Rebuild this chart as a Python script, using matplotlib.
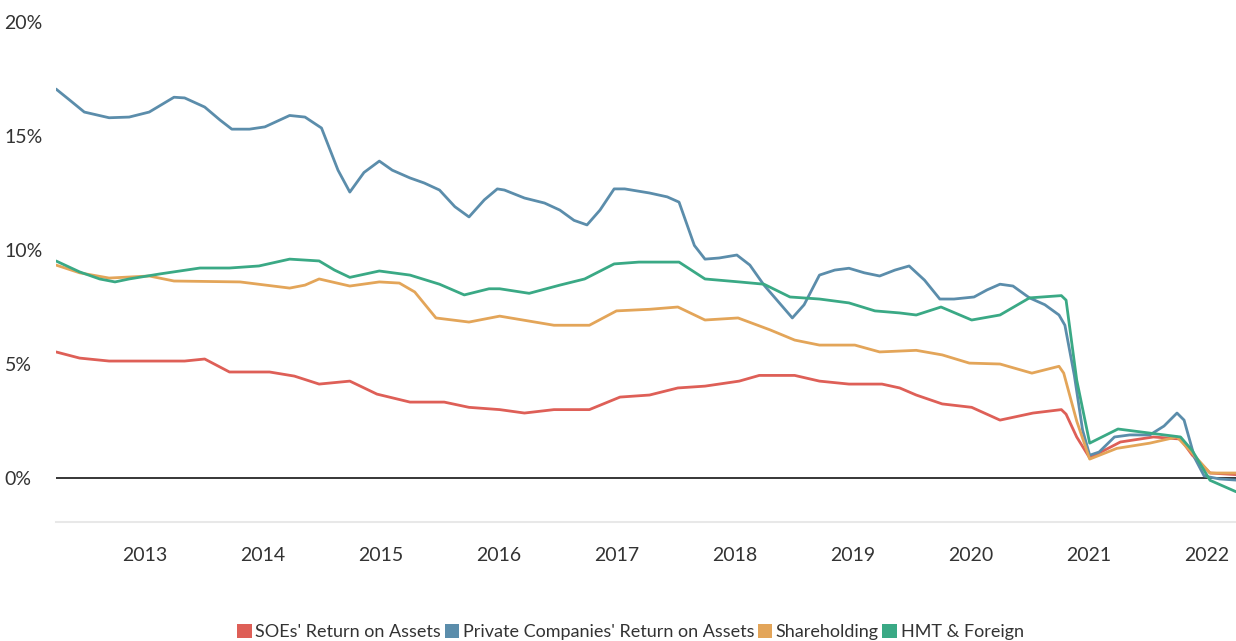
import matplotlib
matplotlib.use("Agg")
import matplotlib.pyplot as plt
from matplotlib.patches import Patch
from matplotlib.ticker import FuncFormatter

plt.rcParams['font.family'] = ['Lato', 'DejaVu Sans']

# datos (anio decimal, % de retorno)
soe_x = [2012.25, 2012.45, 2012.70, 2013.04, 2013.34, 2013.51, 2013.72, 2014.06, 2014.27, 2014.48,
         2014.74, 2014.97, 2015.25, 2015.54, 2015.75, 2016.01, 2016.22, 2016.47, 2016.77, 2017.03,
         2017.28, 2017.52, 2017.75, 2018.04, 2018.21, 2018.51, 2018.72, 2018.97, 2019.25, 2019.40,
         2019.54, 2019.76, 2020.01, 2020.25, 2020.53, 2020.77, 2020.81, 2020.90, 2021.01, 2021.27,
         2021.55, 2021.78, 2021.88, 2022.03, 2022.25]
soe_y = [5.53, 5.26, 5.13, 5.13, 5.13, 5.22, 4.65, 4.65, 4.47, 4.12,
         4.25, 3.68, 3.33, 3.33, 3.10, 3.00, 2.85, 3.00, 3.00, 3.55,
         3.64, 3.95, 4.03, 4.25, 4.50, 4.50, 4.25, 4.12, 4.12, 3.95,
         3.64, 3.25, 3.10, 2.54, 2.85, 3.00, 2.80, 1.80, 0.88, 1.58,
         1.80, 1.71, 1.00, 0.22, 0.15]

priv_x = [2012.25, 2012.36, 2012.49, 2012.70, 2012.87, 2013.04, 2013.25, 2013.34, 2013.51, 2013.64,
          2013.74, 2013.89, 2014.02, 2014.23, 2014.36, 2014.50, 2014.64, 2014.74, 2014.86, 2014.99,
          2015.10, 2015.25, 2015.37, 2015.50, 2015.63, 2015.75, 2015.88, 2015.99, 2016.05, 2016.22,
          2016.39, 2016.52, 2016.64, 2016.75, 2016.86, 2016.98, 2017.07, 2017.28, 2017.43, 2017.53,
          2017.66, 2017.75, 2017.87, 2018.02, 2018.13, 2018.25, 2018.38, 2018.49, 2018.59, 2018.72,
          2018.85, 2018.97, 2019.10, 2019.23, 2019.36, 2019.48, 2019.61, 2019.74, 2019.86, 2020.03,
          2020.14, 2020.25, 2020.36, 2020.50, 2020.63, 2020.75, 2020.80, 2020.88, 2020.95, 2021.01,
          2021.09, 2021.22, 2021.35, 2021.52, 2021.64, 2021.75, 2021.81, 2021.90, 2021.98, 2022.11,
          2022.25]
priv_y = [17.06, 16.60, 16.05, 15.80, 15.83, 16.05, 16.70, 16.67, 16.27, 15.70,
          15.30, 15.30, 15.40, 15.90, 15.83, 15.35, 13.50, 12.54, 13.40, 13.90,
          13.50, 13.16, 12.94, 12.63, 11.90, 11.45, 12.20, 12.68, 12.63, 12.28,
          12.06, 11.75, 11.30, 11.10, 11.75, 12.68, 12.68, 12.50, 12.33, 12.10,
          10.20, 9.60, 9.65, 9.78, 9.34, 8.46, 7.68, 7.02, 7.60, 8.90,
          9.12, 9.20, 9.00, 8.86, 9.12, 9.30, 8.68, 7.85, 7.85, 7.94,
          8.25, 8.50, 8.42, 7.90, 7.60, 7.15, 6.70, 4.50, 2.10, 1.00,
          1.14, 1.80, 1.89, 1.89, 2.28, 2.85, 2.54, 0.88, 0.09, -0.04,
          -0.09]

share_x = [2012.25, 2012.45, 2012.70, 2013.04, 2013.25, 2013.81, 2014.23, 2014.36, 2014.48, 2014.74,
           2014.99, 2015.16, 2015.29, 2015.47, 2015.75, 2016.01, 2016.47, 2016.77, 2017.00, 2017.28,
           2017.52, 2017.75, 2018.03, 2018.30, 2018.51, 2018.72, 2019.02, 2019.23, 2019.54, 2019.76,
           2019.99, 2020.25, 2020.52, 2020.75, 2020.79, 2020.90, 2021.01, 2021.24, 2021.52, 2021.75,
           2021.86, 2022.03, 2022.25]
share_y = [9.34, 9.00, 8.77, 8.86, 8.64, 8.60, 8.33, 8.46, 8.73, 8.42,
           8.60, 8.55, 8.16, 7.02, 6.84, 7.10, 6.70, 6.70, 7.33, 7.40,
           7.50, 6.93, 7.02, 6.50, 6.05, 5.83, 5.83, 5.53, 5.60, 5.40,
           5.04, 5.00, 4.60, 4.90, 4.60, 2.50, 0.83, 1.30, 1.53, 1.80,
           1.20, 0.22, 0.22]

hmt_x = [2012.25, 2012.45, 2012.62, 2012.75, 2012.87, 2013.13, 2013.30, 2013.47, 2013.72, 2013.97,
         2014.23, 2014.48, 2014.61, 2014.74, 2014.99, 2015.25, 2015.50, 2015.71, 2015.92, 2016.01,
         2016.26, 2016.52, 2016.73, 2016.98, 2017.19, 2017.53, 2017.75, 2018.04, 2018.25, 2018.47,
         2018.72, 2018.97, 2019.19, 2019.40, 2019.54, 2019.75, 2020.01, 2020.25, 2020.50, 2020.77,
         2020.81, 2020.90, 2021.01, 2021.25, 2021.52, 2021.78, 2021.88, 2022.03, 2022.25]
hmt_y = [9.52, 9.04, 8.73, 8.60, 8.73, 8.95, 9.08, 9.21, 9.21, 9.30,
         9.60, 9.52, 9.12, 8.80, 9.08, 8.90, 8.50, 8.03, 8.30, 8.30,
         8.10, 8.46, 8.73, 9.39, 9.47, 9.47, 8.73, 8.60, 8.50, 7.94,
         7.85, 7.68, 7.33, 7.24, 7.15, 7.50, 6.93, 7.15, 7.90, 8.00,
         7.80, 4.30, 1.53, 2.15, 1.97, 1.80, 1.20, -0.10, -0.60]

nombres = ["SOEs' Return on Assets", "Private Companies' Return on Assets", "Shareholding", "HMT & Foreign"]
colores = ["#de5f57", "#5b8dab", "#e3a559", "#3aa985"]
anios = list(range(2013, 2023))

fig = plt.figure(figsize=(12.36, 6.41), dpi=100)
ax = fig.add_axes([56 / 1236, 0.1856, 1 - 56 / 1236, 0.7801])

series = [(soe_x, soe_y), (priv_x, priv_y), (share_x, share_y), (hmt_x, hmt_y)]
for (xs, ys), c in zip(series, colores):
    ax.plot(xs, ys, color=c, lw=2.0, solid_joinstyle='round', solid_capstyle='round')

ax.axhline(0, color='black', lw=1.1, zorder=1)

ax.set_xlim(2012.25, 2022.25)
ax.set_ylim(-1.93, 20)
ax.set_xticks(anios)
ax.set_yticks([0, 5, 10, 15, 20])
ax.yaxis.set_major_formatter(FuncFormatter(lambda v, p: f"{v:.0f}%"))

for s in ['top', 'right', 'left']:
    ax.spines[s].set_visible(False)
ax.spines['bottom'].set_color('#e8e8e8')
ax.spines['bottom'].set_linewidth(1.5)

ax.tick_params(axis='both', length=0, labelsize=14, labelcolor='#333333')
ax.tick_params(axis='x', pad=18)
ax.tick_params(axis='y', pad=37)
for lbl in ax.get_yticklabels():
    lbl.set_horizontalalignment('left')

handles = [Patch(facecolor=c, edgecolor='none') for c in colores]
fig.legend(handles, nombres, loc='center', bbox_to_anchor=(0.51, 0.014), ncol=4, frameon=False,
           fontsize=13, handlelength=0.8, handleheight=0.8, handletextpad=0.2, columnspacing=0.2,
           labelcolor='#333333')

plt.savefig('out.png', dpi=100)
